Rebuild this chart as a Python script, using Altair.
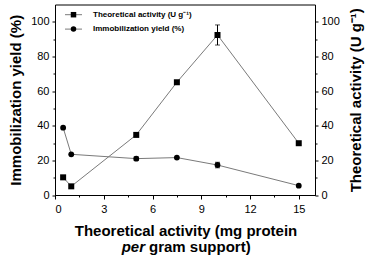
import altair as alt
import pandas as pd

# ---- data ----
loading = [0.5, 1, 5, 7.5, 10, 15]                 # mg protein per gram support
activity = [10.2, 5.0, 34.7, 65.1, 92.4, 29.9]     # Theoretical activity (U g-1)
activity_err = [0, 0, 0, 0, 5.8, 0]
yield_pct = [38.9, 23.5, 21.0, 21.6, 17.3, 5.4]   # Immobilization yield (%)
yield_err = [0, 0, 1.0, 0, 1.6, 0]

legend_labels = ["Theoretical activity (U g\u207b\u00b9)", "Immobilization yield (%)"]
x_title_1 = "Theoretical activity (mg protein"
x_title_2a = "per"
x_title_2b = "gram support)"

df_a = pd.DataFrame({"x": loading, "v": activity, "e": activity_err})
df_a["lo"] = df_a["v"] - df_a["e"]
df_a["hi"] = df_a["v"] + df_a["e"]
df_y = pd.DataFrame({"x": loading, "v": yield_pct, "e": yield_err})
df_y["lo"] = df_y["v"] - df_y["e"]
df_y["hi"] = df_y["v"] + df_y["e"]

FONT = "Liberation Sans"
LINE = "#7a7a7a"

x_enc = alt.X(
    "x:Q",
    scale=alt.Scale(domain=[0, 16], nice=False),
    axis=alt.Axis(
        values=[0, 1.5, 3, 4.5, 6, 7.5, 9, 10.5, 12, 13.5, 15],
        labelExpr="datum.value % 3 === 0 ? datum.label : ''",
        tickSize={"condition": {"test": "datum.value % 3 !== 0", "value": 2}, "value": 4},
        labelPadding=4,
        labelOverlap=False,
        grid=False,
        title=None,
    ),
)

def y_axis(orient, title, tpad, tbase):
    return alt.Axis(
        orient=orient,
        values=[0, 10, 20, 30, 40, 50, 60, 70, 80, 90, 100],
        labelExpr="datum.value % 20 === 0 ? datum.label : ''",
        tickSize={"condition": {"test": "datum.value % 20 !== 0", "value": 2}, "value": 3},
        labelPadding=3,
        labelOverlap=False,
        grid=False,
        title=title,
        titlePadding=tpad,
        titleAngle=270,
        titleBaseline=tbase,
    )

SCALE = alt.Scale(domain=[0, 110], nice=False)
AX_L = y_axis("left", "Immobilization yield (%)", 7, "bottom")
AX_R = y_axis("right", "Theoretical activity (U g\u207b\u00b9)", 9, "top")


def series(df, shape, size, axis):
    b = alt.Chart(df)
    eb = b.transform_filter("datum.e > 0")
    line = b.mark_line(color=LINE, strokeWidth=1).encode(
        x=x_enc, y=alt.Y("v:Q", scale=SCALE, axis=axis))
    err = eb.mark_rule(color="black", strokeWidth=1).encode(
        x=x_enc, y=alt.Y("lo:Q", scale=SCALE, axis=axis), y2="hi:Q")
    cap_lo = eb.mark_tick(color="black", thickness=1, size=5, orient="horizontal").encode(
        x=x_enc, y=alt.Y("lo:Q", scale=SCALE, axis=axis))
    cap_hi = eb.mark_tick(color="black", thickness=1, size=5, orient="horizontal").encode(
        x=x_enc, y=alt.Y("hi:Q", scale=SCALE, axis=axis))
    pts = b.mark_point(shape=shape, filled=True, color="black", size=size, opacity=1).encode(
        x=x_enc, y=alt.Y("v:Q", scale=SCALE, axis=axis))
    return alt.layer(line, err, cap_lo, cap_hi, pts)


left = series(df_y, "circle", 34, AX_L)
right = series(df_a, "square", 36, AX_R)

# manual legend (top-left inside the plot)
one = alt.Data(values=[{}])
leg = []
for i, (lab, shp) in enumerate(zip(legend_labels, ["square", "circle"])):
    yy = 10.2 + 14.4 * i
    leg.append(alt.Chart(one).mark_rule(color=LINE, strokeWidth=1).encode(
        x=alt.value(10), x2=alt.value(27), y=alt.value(yy)))
    leg.append(alt.Chart(one).mark_point(shape=shp, filled=True, color="black", size=30, opacity=1).encode(
        x=alt.value(18.5), y=alt.value(yy)))
    leg.append(alt.Chart(one).mark_text(text=lab, align="left", baseline="middle", font=FONT,
                                        fontSize=8, fontWeight="bold", color="black").encode(
        x=alt.value(38), y=alt.value(yy)))

# x-axis title (two lines, with italic "per")
xt1 = alt.Chart(one).mark_text(text=x_title_1, align="center", baseline="middle", font=FONT,
                               fontSize=15, fontWeight="bold", color="black").encode(
    x=alt.value(131), y=alt.value(226))
xt2a = alt.Chart(one).mark_text(text=x_title_2a, align="right", baseline="middle", font=FONT,
                                fontSize=15, fontWeight="bold", fontStyle="italic", color="black").encode(
    x=alt.value(90), y=alt.value(242))
xt2b = alt.Chart(one).mark_text(text=x_title_2b, align="left", baseline="middle", font=FONT,
                                fontSize=15, fontWeight="bold", color="black").encode(
    x=alt.value(94), y=alt.value(242))

chart = alt.layer(left, right, *leg, xt1, xt2a, xt2b).resolve_scale(y="independent").properties(
    width=260, height=190.5,
    background="white",
    autosize=alt.AutoSizeParams(type="none"),
    padding={"left": 55, "top": 4.5, "right": 57, "bottom": 64},
).configure_view(stroke="black", strokeWidth=1).configure_axis(
    domainColor="black", tickColor="black", labelColor="black", titleColor="black",
    labelFont=FONT, labelFontSize=11, titleFont=FONT, titleFontSize=15, titleFontWeight="bold",
    domainWidth=1, tickWidth=1, labelOverlap=False,
)

chart.save("out.html", embed_options={"renderer": "svg", "actions": False})
